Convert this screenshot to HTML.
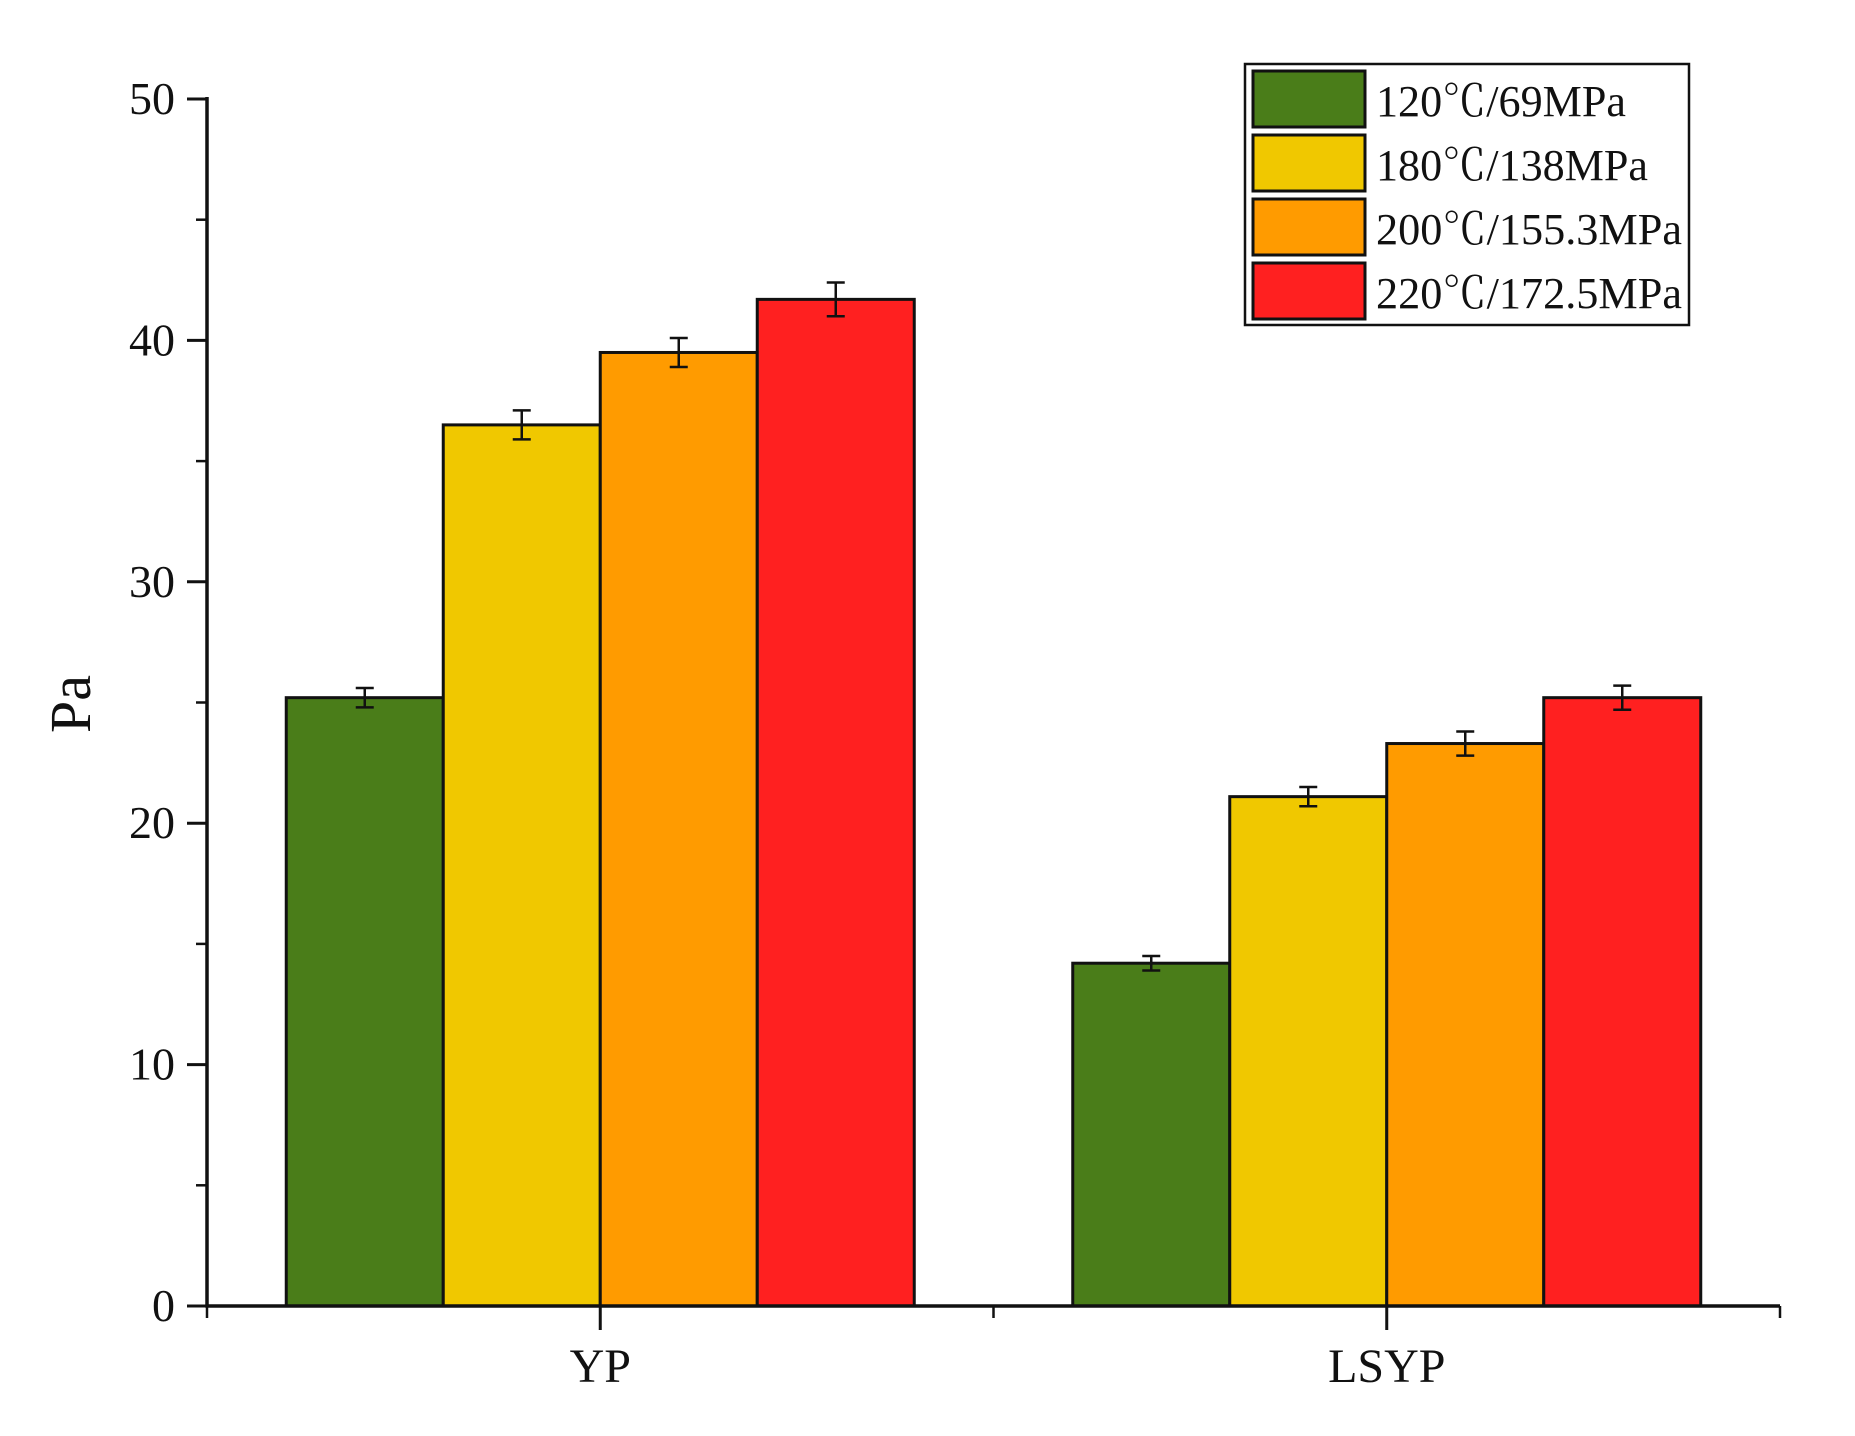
<!DOCTYPE html>
<html><head><meta charset="utf-8"><style>
html,body{margin:0;padding:0;background:#fff}
svg{display:block}
text{font-family:"Liberation Serif","Noto Serif CJK SC",serif;fill:#111}
</style></head><body>
<svg width="1855" height="1436" viewBox="0 0 1855 1436" id="chart">
<rect x="0" y="0" width="1855" height="1436" fill="#fff"/>
</svg>
<script>
const categories=["YP","LSYP"];
const seriesNames=["120℃/69MPa","180℃/138MPa","200℃/155.3MPa","220℃/172.5MPa"];
const seriesColors=["#4a7d19","#f0c800","#ff9b00","#ff2020"];
const s120=[25.2,14.2];
const s180=[36.5,21.1];
const s200=[39.5,23.3];
const s220=[41.7,25.2];
const e120=[0.4,0.3];
const e180=[0.6,0.4];
const e200=[0.6,0.5];
const e220=[0.7,0.5];
const yTicks=[0,10,20,30,40,50];
const yMinor=[5,15,25,35,45];

const svg=document.getElementById('chart');
const NS='http://www.w3.org/2000/svg';
function mk(tag,attrs){const e=document.createElementNS(NS,tag);for(const k in attrs)e.setAttribute(k,attrs[k]);svg.appendChild(e);return e;}
const X0=207,X1=1780,Y0=1306,Y1=99;
const yS=v=>Y0-(v-0)/(50-0)*(Y0-Y1);
const catW=(X1-X0)/categories.length;
const xC=i=>X0+catW*(i+0.5);
const barW=157;
const series=[s120,s180,s200,s220];
const errs=[e120,e180,e200,e220];

series.forEach((vals,si)=>{
  vals.forEach((v,ci)=>{
    const x=xC(ci)+(si-2)*barW;
    const r=mk('rect',{x:x,y:yS(v),width:barW,height:Y0-yS(v),fill:seriesColors[si],stroke:'#111','stroke-width':3});
    
    
  });
});
series.forEach((vals,si)=>{
  vals.forEach((v,ci)=>{
    const cx=xC(ci)+(si-1.5)*barW;
    const e=errs[si][ci];
    const g=mk('path',{d:`M${cx} ${yS(v+e)}V${yS(v-e)}M${cx-9} ${yS(v+e)}H${cx+9}M${cx-9} ${yS(v-e)}H${cx+9}`,stroke:'#111','stroke-width':2.5,fill:'none'});
    
    
  });
});
const ax=mk('path',{d:`M${X0} ${Y1-2}V${Y0}H${X1}`,stroke:'#111','stroke-width':3.5,fill:'none'});


yTicks.forEach(t=>{
  const l=mk('line',{x1:X0-20,x2:X0,y1:yS(t),y2:yS(t),stroke:'#111','stroke-width':3});
  
  
  const tx=mk('text',{x:X0-32,y:yS(t)+15,'text-anchor':'end','font-size':46});
  tx.textContent=t;
  
  
});
yMinor.forEach(t=>{
  const l=mk('line',{x1:X0-11,x2:X0,y1:yS(t),y2:yS(t),stroke:'#111','stroke-width':2.5});
  
  
});
categories.forEach((c,i)=>{
  const l=mk('line',{x1:xC(i),x2:xC(i),y1:Y0,y2:Y0+24,stroke:'#111','stroke-width':3});
  
  
  const tx=mk('text',{x:xC(i),y:1382,'text-anchor':'middle','font-size':48});
  tx.textContent=c;
  
  
});
for(let i=0;i<=categories.length;i++){
  const x=X0+catW*i;
  const l=mk('line',{x1:x,x2:x,y1:Y0,y2:Y0+12,stroke:'#111','stroke-width':2.5});
  
  
}
const yt=mk('text',{x:0,y:0,'text-anchor':'middle','font-size':58,transform:'translate(90,704) rotate(-90)'});
yt.textContent='Pa';


const lb=mk('rect',{x:1245,y:64,width:444,height:261,fill:'#fff',stroke:'#111','stroke-width':2.5});


seriesNames.forEach((n,i)=>{
  const y=71+i*64;
  const sw=mk('rect',{x:1253,y:y,width:112,height:56,fill:seriesColors[i],stroke:'#111','stroke-width':3});
  
  
  const t=mk('text',{x:1376,y:y+45,'font-size':44,textLength:i===0?250:(i===1?272:306),lengthAdjust:'spacingAndGlyphs'});
  t.textContent=n;
  
  
});
</script>
</body></html>
